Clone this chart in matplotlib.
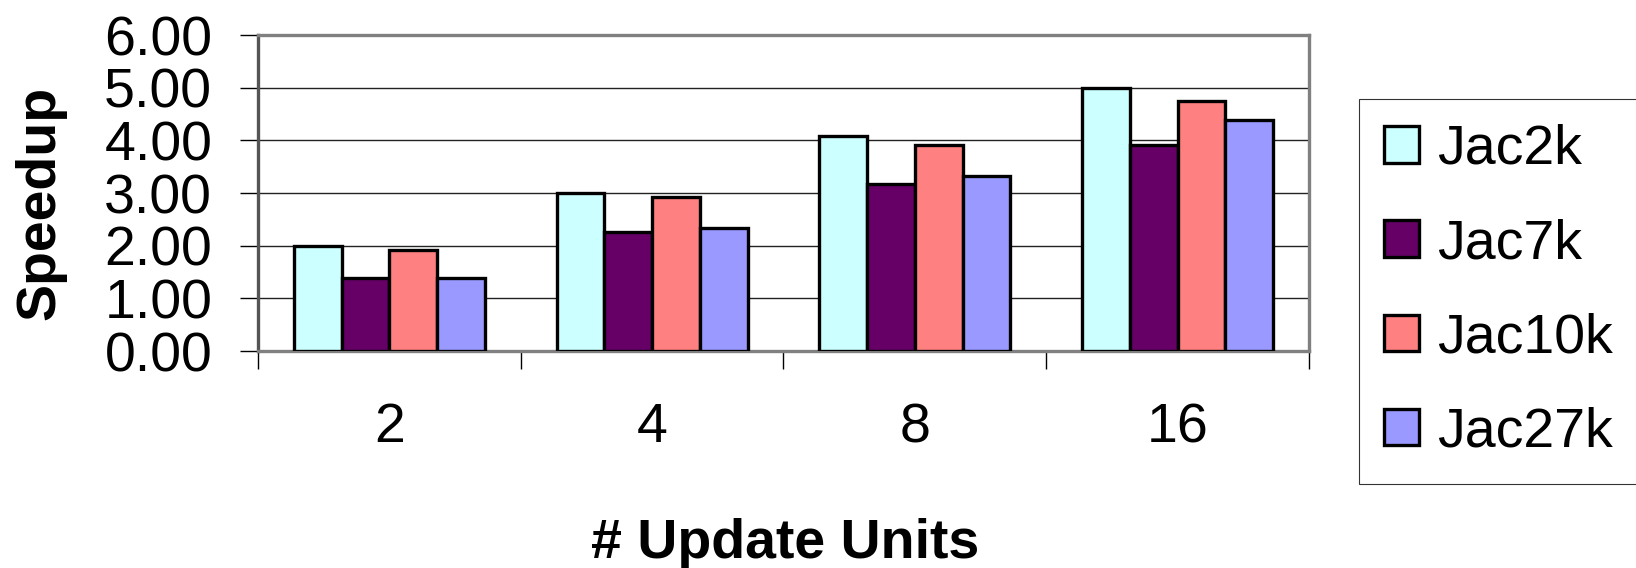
import numpy as np
import matplotlib
matplotlib.use("Agg")
import matplotlib.pyplot as plt

plt.rcParams["font.family"] = ["Liberation Sans", "DejaVu Sans"]

units = ["2", "4", "8", "16"]
series = ["Jac2k", "Jac7k", "Jac10k", "Jac27k"]
jac2k = [2.00, 3.00, 4.09, 5.00]
jac7k = [1.38, 2.26, 3.17, 3.91]
jac10k = [1.92, 2.92, 3.91, 4.74]
jac27k = [1.38, 2.33, 3.33, 4.38]
colors = ["#CCFFFF", "#660066", "#FF8080", "#9999FF"]

fig = plt.figure(figsize=(16.36, 5.68), dpi=100)
ax = fig.add_axes([258 / 1636, 1 - 351 / 568, (1309 - 258) / 1636, (351 - 35) / 568])

x = np.arange(len(units))
width = 1 / 5.5
for i, (name, vals) in enumerate(zip(series, [jac2k, jac7k, jac10k, jac27k])):
    ax.bar(x + (i - 1.5) * width, vals, width, color=colors[i],
           edgecolor="black", linewidth=2.4, label=name, zorder=3)

ax.set_xlim(-0.5, len(units) - 0.5)
ax.set_ylim(0, 6)
ax.set_yticks(np.arange(0, 7, 1))
ax.set_yticklabels([f"{v:.2f}" for v in np.arange(0, 7, 1)])
ax.yaxis.grid(True, color="#222222", linewidth=1.0, zorder=0)
ax.set_axisbelow(True)

# category labels in the middle, tick marks on the boundaries
ax.set_xticks(x)
ax.set_xticklabels(units)
ax.set_xticks(np.arange(-0.5, len(units)), minor=True)
ax.tick_params(axis="x", which="major", length=0, pad=37, labelsize=40)
ax.tick_params(axis="x", which="minor", length=13, width=1.0, color="black")
ax.tick_params(axis="y", length=13, width=1.0, color="black", pad=20, labelsize=40)

for side in ["top", "right", "bottom", "left"]:
    ax.spines[side].set_color("#808080")
    ax.spines[side].set_linewidth(2.4)
ax.spines["left"].set_color("#555555")

fig.text(40 / 1636, 1 - 203 / 568, "Speedup", rotation=90, ha="center", va="center",
         fontsize=40, fontweight="bold")
fig.text(785 / 1636, 1 - 558 / 568, "# Update Units", ha="center", va="baseline",
         fontsize=40, fontweight="bold")

leg = fig.legend(loc="upper left", bbox_to_anchor=(1359 / 1636, 1 - 99 / 568),
                 fontsize=40, frameon=True, fancybox=False, borderpad=0.45,
                 labelspacing=0.76, handlelength=0.63, handleheight=0.63,
                 handletextpad=0.32, borderaxespad=0)
leg.get_frame().set_edgecolor("black")
leg.get_frame().set_linewidth(0.8)

fig.savefig("out.png", dpi=100)
